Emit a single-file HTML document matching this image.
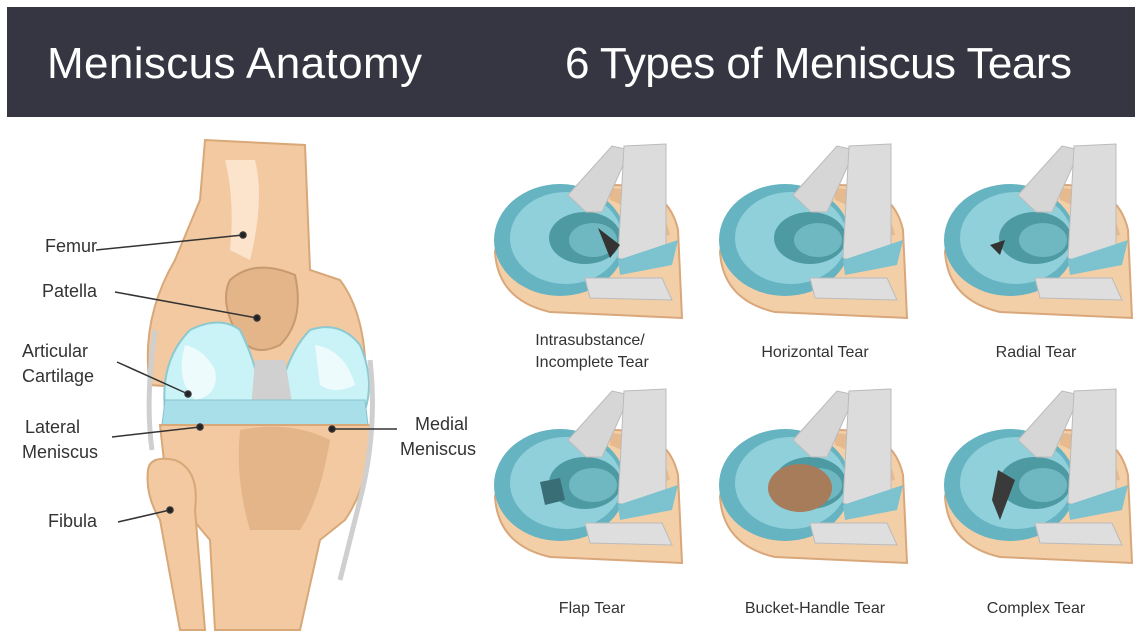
<!DOCTYPE html>
<html><head><meta charset="utf-8"><style>
html,body{margin:0;padding:0;background:#fff;}
svg{display:block;}
text{font-family:"Liberation Sans",sans-serif;}
</style></head><body>
<svg width="1143" height="640" viewBox="0 0 1143 640" xmlns="http://www.w3.org/2000/svg">
<defs>
<g id="men">
  <path d="M5,112 Q12,62 120,45 Q178,44 188,90 L192,178 L60,172 Q8,160 5,112 Z" fill="#f3cfa8" stroke="#d9a77a" stroke-width="2"/>
  <path d="M120,48 Q170,50 180,95 L150,100 Q150,70 120,60 Z" fill="#e6b98e"/>
  <ellipse cx="70" cy="100" rx="66" ry="56" fill="#66b3c1"/>
  <ellipse cx="76" cy="98" rx="56" ry="46" fill="#8fd0db"/>
  <ellipse cx="95" cy="98" rx="36" ry="26" fill="#4e9aa3"/>
  <ellipse cx="103" cy="100" rx="24" ry="17" fill="#6fb8c2"/>
  <polygon points="78,55 122,6 140,10 112,72 96,72" fill="#d6d6d6" stroke="#bbb" stroke-width="1"/>
  <polygon points="134,6 176,4 176,108 140,122 128,118" fill="#dcdcdc" stroke="#bbb" stroke-width="1"/>
  <polygon points="128,120 188,100 182,125 130,135" fill="#7cc3cf"/>
  <polygon points="95,138 172,138 182,160 100,158" fill="#dedede" stroke="#bbb" stroke-width="1"/>
</g>
</defs>
<rect x="7" y="7" width="1128" height="110" fill="#353641"/>
<text x="47" y="78" font-size="44" fill="#fff" textLength="375">Meniscus Anatomy</text>
<text x="565" y="78" font-size="44" fill="#fff" textLength="507">6 Types of Meniscus Tears</text>

<!-- knee -->
<g>
  <path d="M150,385 Q140,320 175,260 L200,200 L205,140 L305,145 L310,270 L340,280 Q370,320 365,400 Z" fill="#f2c9a0" stroke="#d8a878" stroke-width="2"/>
  <path d="M225,160 Q235,200 230,250 L250,260 Q265,200 255,160 Z" fill="#fbe3cc"/>
  <path d="M230,280 Q255,258 295,275 Q305,320 280,345 Q250,360 235,330 Q220,300 230,280 Z" fill="#e5b58a" stroke="#c89a70" stroke-width="2"/>
  <path d="M165,410 Q160,360 190,330 Q220,315 240,330 Q255,360 260,390 L280,390 Q290,350 310,330 Q340,320 360,345 Q375,380 365,410 Z" fill="#c9f3f7" stroke="#8cc9d1" stroke-width="2"/>
  <path d="M185,345 Q175,380 195,400 Q220,395 215,370 Q205,350 185,345 Z" fill="#eefbfc"/>
  <path d="M315,345 Q345,350 355,385 Q335,395 320,385 Z" fill="#eefbfc"/>
  <path d="M255,360 L285,360 L295,420 L250,420 Z" fill="#d0d0d0"/>
  <path d="M165,400 L365,400 L368,425 L162,425 Z" fill="#a9dfe8" stroke="#86c3cd" stroke-width="1"/>
  <path d="M160,425 L370,425 Q372,480 345,520 L320,540 L300,630 L215,630 L210,540 Q175,500 165,470 Z" fill="#f2c9a0" stroke="#d8a878" stroke-width="2"/>
  <path d="M240,430 Q290,420 330,440 Q320,500 300,530 L250,530 Q235,480 240,430 Z" fill="#e5b58a"/>
  <path d="M148,470 Q150,455 175,460 Q200,470 195,510 L205,630 L180,630 L160,520 Q145,495 148,470 Z" fill="#f2c9a0" stroke="#d8a878" stroke-width="2"/>
  <path d="M155,330 Q145,400 152,450" fill="none" stroke="#cfcfcf" stroke-width="5"/>
  <path d="M370,360 Q378,430 360,500 L340,580" fill="none" stroke="#cfcfcf" stroke-width="5"/>
</g>
<g stroke="#333" stroke-width="1.5" fill="#222">
  <line x1="96" y1="250" x2="243" y2="235"/><circle cx="243" cy="235" r="3"/>
  <line x1="115" y1="292" x2="257" y2="318"/><circle cx="257" cy="318" r="3"/>
  <line x1="117" y1="362" x2="188" y2="394"/><circle cx="188" cy="394" r="3"/>
  <line x1="112" y1="437" x2="200" y2="427"/><circle cx="200" cy="427" r="3"/>
  <line x1="397" y1="429" x2="332" y2="429"/><circle cx="332" cy="429" r="3"/>
  <line x1="118" y1="522" x2="170" y2="510"/><circle cx="170" cy="510" r="3"/>
</g>
<g font-size="18" fill="#333">
  <text x="45" y="252">Femur</text>
  <text x="42" y="297">Patella</text>
  <text x="22" y="357">Articular</text>
  <text x="22" y="382">Cartilage</text>
  <text x="25" y="433">Lateral</text>
  <text x="22" y="458">Meniscus</text>
  <text x="415" y="430">Medial</text>
  <text x="400" y="455">Meniscus</text>
  <text x="48" y="527">Fibula</text>
</g>

<use href="#men" x="490" y="140"/>
<use href="#men" x="715" y="140"/>
<use href="#men" x="940" y="140"/>
<use href="#men" x="490" y="385"/>
<use href="#men" x="715" y="385"/>
<use href="#men" x="940" y="385"/>
<path d="M598,228 L620,245 L610,258 Z" fill="#333"/>
<path d="M780,610" fill="none"/>
<ellipse cx="800" cy="488" rx="32" ry="24" fill="#a67c5b"/>
<path d="M540,482 L560,478 L565,500 L545,505 Z" fill="#3a6e76"/>
<path d="M998,470 L1015,480 L1000,520 L992,500 Z" fill="#3a3a3a"/>
<path d="M990,245 L1005,240 L1000,255 Z" fill="#333"/>

<g font-size="16" fill="#333" text-anchor="middle">
  <text x="590" y="345">Intrasubstance/</text>
  <text x="592" y="367">Incomplete Tear</text>
  <text x="815" y="357">Horizontal Tear</text>
  <text x="1036" y="357">Radial Tear</text>
  <text x="592" y="613">Flap Tear</text>
  <text x="815" y="613">Bucket-Handle Tear</text>
  <text x="1036" y="613">Complex Tear</text>
</g>
</svg>
</body></html>
